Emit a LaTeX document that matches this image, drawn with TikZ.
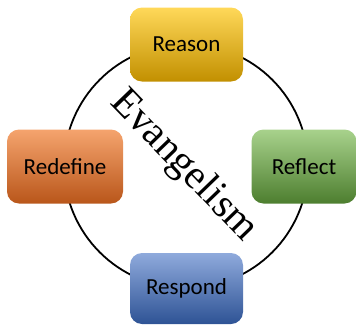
\documentclass[tikz,border=0pt]{standalone}
\usepackage{fontspec}
\setmainfont{Carlito}
\newfontfamily\serifevang{Liberation Serif}
\definecolor{yTop}{HTML}{FFD859}
\definecolor{yMid}{HTML}{FFC000}
\definecolor{yBot}{HTML}{C29000}
\definecolor{oTop}{HTML}{F5A46E}
\definecolor{oMid}{HTML}{E8782F}
\definecolor{oBot}{HTML}{B9561A}
\definecolor{gTop}{HTML}{A8D28C}
\definecolor{gMid}{HTML}{74AE4B}
\definecolor{gBot}{HTML}{4D7E2F}
\definecolor{bTop}{HTML}{8FAADC}
\definecolor{bMid}{HTML}{4A74C2}
\definecolor{bBot}{HTML}{2E5395}
\begin{document}
\begin{tikzpicture}[x=1pt,y=-1pt,
  stepbox/.style={rounded corners=12pt, minimum height=74pt, inner sep=0pt,
    font=\fontsize{23}{26}\selectfont, text=black},
  ring/.style={line width=1.8pt, draw=black}]
\useasboundingbox (0,0) rectangle (357,325);
\coordinate (c) at (186,166);
\draw[ring] (c) circle[radius=122];
\node[stepbox, minimum width=113pt, top color=yTop, middle color=yMid, bottom color=yBot] (reason) at (186.5,44.5) {Reason};
\node[stepbox, minimum width=116pt, top color=oTop, middle color=oMid, bottom color=oBot] (redefine) at (65,166.5) {Redefine};
\node[stepbox, minimum width=105pt, top color=gTop, middle color=gMid, bottom color=gBot] (reflect) at (304,166.5) {Reflect};
\node[stepbox, minimum width=113pt, minimum height=71pt, top color=bTop, middle color=bMid, bottom color=bBot] (respond) at (186.5,288.5) {Respond};
\node[rotate=-46, font=\serifevang\fontsize{41}{44}\selectfont, inner sep=0pt] (evang) at (183.5,166) {Evangelism};
\end{tikzpicture}
\end{document}
